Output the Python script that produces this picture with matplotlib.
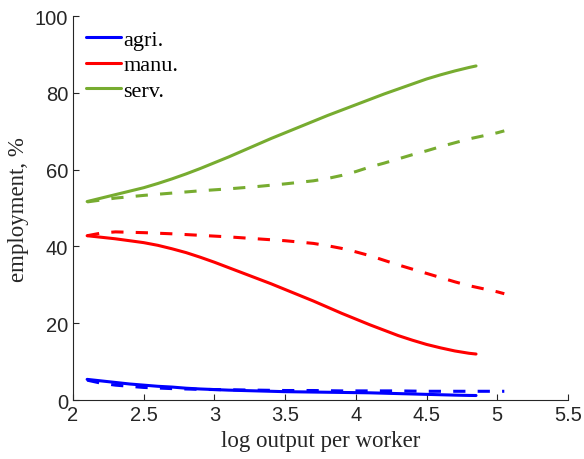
import numpy as np
import matplotlib
matplotlib.use('Agg')
import matplotlib.pyplot as plt

# solid lines (model)
x_solid = [2.1, 2.2, 2.3, 2.4, 2.5, 2.6, 2.7, 2.8, 2.9, 3.0, 3.1, 3.2, 3.3, 3.4, 3.5,
           3.6, 3.7, 3.8, 3.9, 4.0, 4.1, 4.2, 4.3, 4.4, 4.5, 4.6, 4.7, 4.8, 4.85]
agri_solid = [5.4, 5.0, 4.6, 4.2, 3.9, 3.6, 3.4, 3.1, 2.9, 2.75, 2.6, 2.5, 2.4, 2.3, 2.2,
              2.15, 2.1, 2.05, 2.0, 1.95, 1.9, 1.8, 1.7, 1.6, 1.5, 1.4, 1.3, 1.22, 1.2]
manu_solid = [42.8, 42.4, 42.0, 41.5, 41.0, 40.3, 39.4, 38.4, 37.2, 35.9, 34.5, 33.1, 31.7, 30.3, 28.8,
              27.3, 25.8, 24.2, 22.6, 21.1, 19.6, 18.2, 16.8, 15.6, 14.5, 13.6, 12.8, 12.2, 12.0]
serv_solid = [51.7, 52.6, 53.5, 54.4, 55.3, 56.4, 57.6, 58.9, 60.3, 61.8, 63.3, 64.9, 66.5, 68.1, 69.6,
              71.1, 72.6, 74.1, 75.5, 76.9, 78.3, 79.7, 81.0, 82.3, 83.6, 84.7, 85.7, 86.6, 87.0]

# dashed lines
x_dash = [2.1, 2.2, 2.3, 2.5, 2.7, 2.9, 3.1, 3.3, 3.5, 3.7, 3.8, 3.9, 4.0, 4.1, 4.2, 4.3,
          4.4, 4.5, 4.6, 4.7, 4.8, 4.9, 5.0, 5.05]
agri_dash = [5.2, 4.4, 3.9, 3.3, 3.0, 2.8, 2.7, 2.6, 2.5, 2.5, 2.45, 2.4, 2.4, 2.4, 2.4, 2.4,
             2.35, 2.3, 2.3, 2.3, 2.3, 2.3, 2.3, 2.3]
manu_dash = [42.8, 43.5, 43.8, 43.6, 43.3, 42.9, 42.5, 42.0, 41.5, 40.8, 40.2, 39.5, 38.6, 37.6, 36.4, 35.2,
             34.1, 33.0, 31.9, 30.8, 29.8, 29.0, 28.2, 27.7]
serv_dash = [51.6, 52.1, 52.6, 53.3, 53.9, 54.5, 55.0, 55.6, 56.3, 57.1, 57.7, 58.5, 59.5, 60.7, 61.7, 62.8,
             63.9, 64.9, 66.0, 67.0, 68.0, 68.8, 69.6, 70.1]

labels = ['agri.', 'manu.', 'serv.']
colors = ['#0000FF', '#FF0000', '#77AC30']

fig = plt.figure(figsize=(5.84, 4.6), dpi=100)
ax = fig.add_axes([0.125, 0.128, 0.8475, 0.835])

lw = 2.2
for ys, c, lab in zip([agri_solid, manu_solid, serv_solid], colors, labels):
    ax.plot(x_solid, ys, color=c, linewidth=lw, label=lab, solid_capstyle='round')
for ys, c in zip([agri_dash, manu_dash, serv_dash], colors):
    ax.plot(x_dash, ys, color=c, linewidth=lw, dashes=(4, 4))

ax.set_xlim(2, 5.5)
ax.set_ylim(0, 100)
ax.set_xticks([2, 2.5, 3, 3.5, 4, 4.5, 5, 5.5])
ax.set_xticklabels(['2', '2.5', '3', '3.5', '4', '4.5', '5', '5.5'])
ax.set_yticks([0, 20, 40, 60, 80, 100])

for side in ['top', 'right']:
    ax.spines[side].set_visible(False)
for side in ['left', 'bottom']:
    ax.spines[side].set_color('#262626')
    ax.spines[side].set_linewidth(0.8)

ax.tick_params(direction='in', length=4.3, width=0.8, color='#262626',
               labelcolor='#262626', labelsize=14.5)
for t in ax.get_xticklabels() + ax.get_yticklabels():
    t.set_family('Liberation Sans')

ax.set_xlabel('log output per worker', family='Liberation Serif', fontsize=16.5, color='#262626')
ax.set_ylabel('employment, %', family='Liberation Serif', fontsize=16.5, color='#262626')

leg = ax.legend(loc='upper left', frameon=False, prop={'family': 'Liberation Serif', 'size': 16},
                handlelength=1.57, handletextpad=0.1, labelspacing=0.22,
                borderaxespad=0.2, bbox_to_anchor=(0.0, 1.0))

fig.savefig('out.png', dpi=100)
